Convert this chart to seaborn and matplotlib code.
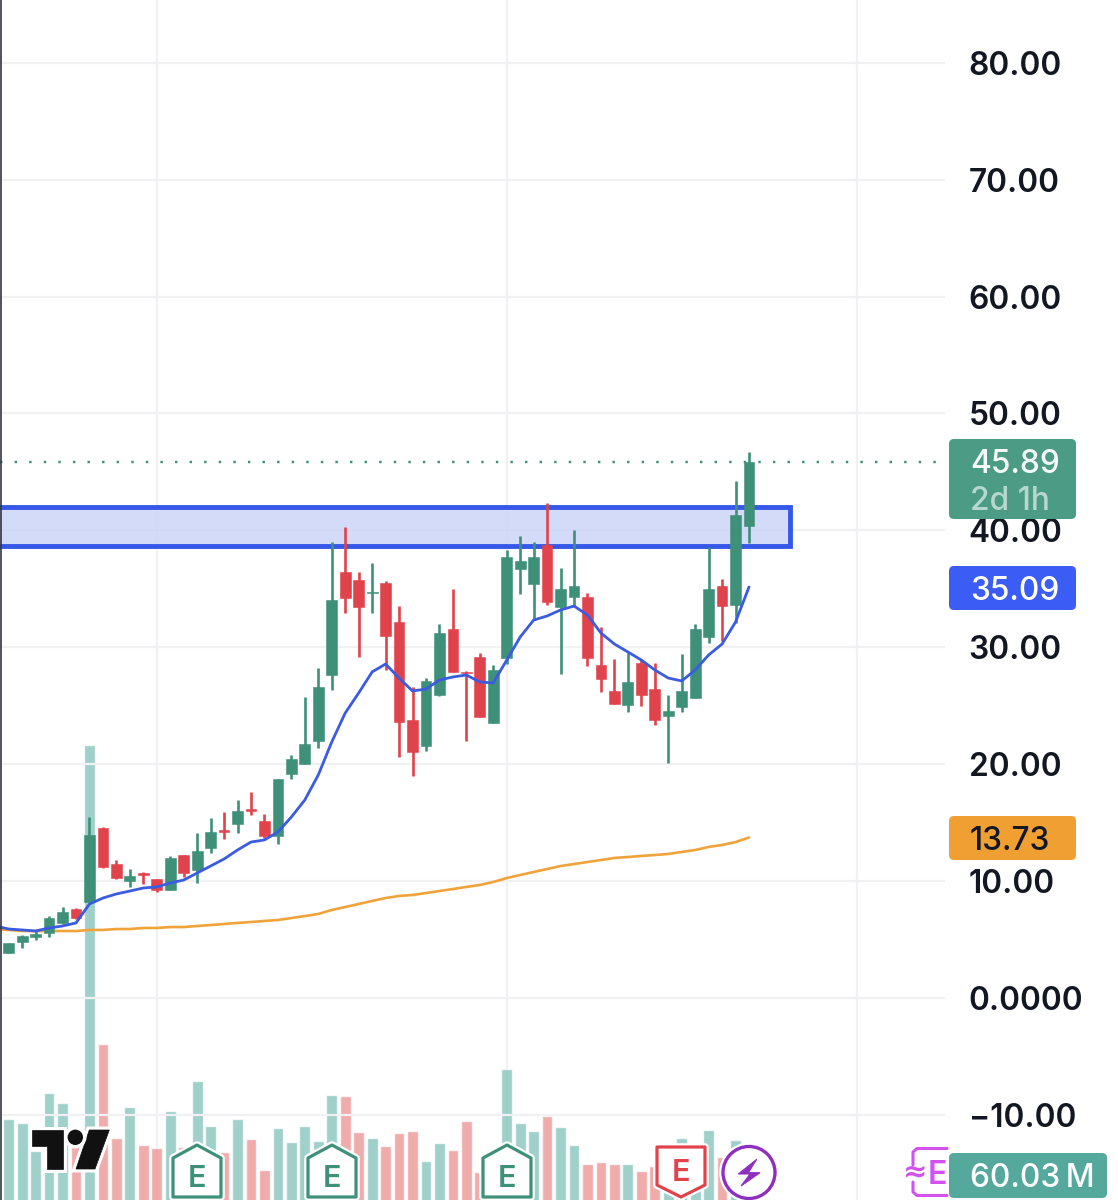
import numpy as np
import pandas as pd
import matplotlib
matplotlib.use("Agg")
import matplotlib.pyplot as plt
import matplotlib.patheffects as pe
from matplotlib.patches import FancyBboxPatch, Polygon, Circle, Rectangle
import seaborn as sns

# ---------- data ----------
opens = [3.85,4.79,5.22,5.56,6.42,7.61,8.21,14.54,11.46,10.01,10.69,10.18,9.24,12.23,10.95,12.83,14.37,14.88,16.17,15.14,
         13.86,19.16,20.02,21.98,27.63,36.44,35.76,34.64,35.50,32.16,23.78,21.56,25.92,31.56,27.89,29.17,23.52,29.08,36.70,35.41,
         38.75,33.45,34.30,34.30,28.49,26.26,25.06,28.66,26.43,24.12,24.89,25.66,30.88,35.24,33.62,40.38]
closes = [4.70,5.30,5.47,6.84,7.36,6.84,13.94,11.21,10.26,10.44,10.52,9.24,11.98,10.69,12.57,14.20,14.20,16.00,16.00,13.86,
          18.73,20.44,21.73,26.60,34.05,34.22,33.45,34.73,30.97,23.61,21.04,27.12,31.22,27.89,27.80,24.04,28.06,37.72,37.38,37.72,
          33.87,34.99,35.24,29.08,27.29,25.15,27.03,25.92,23.78,24.55,26.26,31.56,34.99,33.53,41.32,45.89]
highs = [4.70,5.39,5.82,7.01,7.78,7.70,15.48,14.63,11.80,11.03,10.78,10.18,12.15,12.23,14.11,15.40,15.91,16.94,17.62,15.74,
         18.73,20.79,25.75,28.23,39.01,40.29,36.44,37.21,35.67,33.53,26.60,27.37,31.99,34.99,27.97,29.51,28.49,38.32,39.52,39.01,
         42.34,36.78,40.03,34.64,31.74,29.00,29.51,29.00,28.66,25.92,29.43,31.99,38.58,35.84,44.22,46.71]
lows = [3.85,4.28,4.96,5.22,6.33,6.76,8.21,11.12,10.18,9.50,9.75,9.07,9.24,10.35,9.84,12.40,13.60,14.11,15.65,13.69,
        13.17,18.73,20.02,21.38,26.35,32.93,29.17,32.93,28.06,20.62,18.99,21.13,25.83,27.89,21.98,24.04,23.52,28.57,34.56,32.33,
        33.62,27.71,33.45,28.40,26.18,25.15,24.46,24.98,23.35,20.10,24.46,25.66,30.37,30.54,32.08,38.92]
volumes = [96,92,64,122,112,75,470,171,77,108,70,67,104,68,134,89,63,96,76,45,
           87,73,89,74,120,119,83,77,69,82,84,54,72,65,94,43,55,146,92,84,
           99,88,70,51,53,51,51,44,49,40,77,45,85,58,75,60.03]
ema_fast = [6.16,5.90,5.82,5.73,5.99,6.16,6.42,8.04,8.55,8.90,9.15,9.41,9.50,9.84,10.09,10.69,11.29,11.89,12.66,13.34,13.52,
            14.20,15.48,16.94,19.08,21.90,24.38,26.09,27.89,28.57,27.37,26.26,26.43,27.20,27.46,27.63,27.03,26.95,28.91,30.88,32.33,
            32.68,33.19,33.53,32.76,31.22,30.28,29.60,28.91,28.06,27.37,27.12,28.06,29.34,30.28,32.16,35.16]
ema_slow = [5.90,5.82,5.73,5.73,5.73,5.73,5.73,5.82,5.82,5.90,5.90,5.99,5.99,6.07,6.07,6.16,6.24,6.33,6.42,6.50,6.59,
            6.67,6.84,7.01,7.19,7.53,7.78,8.04,8.30,8.55,8.73,8.81,8.98,9.15,9.32,9.50,9.67,9.92,10.26,10.52,10.78,
            11.03,11.29,11.46,11.63,11.80,11.98,12.06,12.15,12.23,12.32,12.49,12.66,12.92,13.09,13.34,13.73]
price_ticks = [-10, 0, 10, 20, 30, 40, 50, 60, 70, 80]
price_tick_labels = ["\u221210.00", "0.0000", "10.00", "20.00", "30.00", "40.00", "50.00", "60.00", "70.00", "80.00"]
zone_low, zone_high = 38.66, 42.0
last_price = 45.89
time_grid = [11, 37, 63]

# ---------- style ----------
GREEN, RED = "#3F9079", "#E0434B"
VOL_GREEN, VOL_RED = "#7FC1B9", "#EB8F8F"
BLUE, ORANGE = "#3B5BE0", "#F0A33A"
GRID = "#F1F1F4"
FONT = ["Inter", "Open Sans", "DejaVu Sans"]
FS = 22.8
W, H = 1118, 1200

sns.set_theme(style="white")
plt.rcParams["font.family"] = FONT

df = pd.DataFrame({"idx": np.arange(len(opens)), "open": opens, "close": closes,
                   "high": highs, "low": lows, "volume": volumes})
df["direction"] = np.where(df["close"] >= df["open"], "up", "down")
colors = df["direction"].map({"up": GREEN, "down": RED})

fig = plt.figure(figsize=(W / 100, H / 100), dpi=100, facecolor="white")
rect = [0, 0, 945 / W, 1]
xlim = (-0.646, 69.56)
ylim = (-17.28, 85.37)

# volume pane, behind the prices
ax_vol = fig.add_axes(rect, zorder=1)
for v in time_grid:
    ax_vol.axvline(v, color=GRID, lw=1.6, zorder=0)
sns.barplot(data=df, x="idx", y="volume", hue="direction", palette={"up": VOL_GREEN, "down": VOL_RED},
            native_scale=True, dodge=False, width=0.8, saturation=1, alpha=0.75, legend=False, ax=ax_vol, zorder=2)
ax_vol.set_xlim(xlim)
ax_vol.set_ylim(15, 1215)
ax_vol.set_xlabel(""); ax_vol.set_ylabel("")
ax_vol.set_xticks([]); ax_vol.set_yticks([])
sns.despine(ax=ax_vol, left=True, right=True, top=True, bottom=True)

# price pane
ax = fig.add_axes(rect, zorder=2)
ax.patch.set_alpha(0)
ax.set_axisbelow(True)
for t in price_ticks:
    ax.axhline(t, color=GRID, lw=1.6, zorder=0)
ax.add_patch(Rectangle((xlim[0] - 2, zone_low), 58.05 - xlim[0] + 2, zone_high - zone_low,
                       facecolor="#C9D3F7", alpha=0.8, edgecolor="none", zorder=1))
ax.add_patch(Rectangle((xlim[0] - 2, zone_low), 58.05 - xlim[0] + 2, zone_high - zone_low,
                       facecolor="none", edgecolor="#3558E8", lw=3.5, zorder=1.5))
ax.plot(xlim, [last_price, last_price], color=GREEN, lw=1.75, ls=(0, (1, 5)), zorder=1.6)

line_x = np.arange(-1, len(opens))
sns.lineplot(x=line_x, y=ema_slow, color=ORANGE, lw=1.9, ax=ax, errorbar=None, zorder=2)
ax.vlines(df["idx"], df["low"], df["high"], colors=colors, lw=1.9, zorder=3)
ax.bar(df["idx"], np.abs(df["close"] - df["open"]), bottom=np.minimum(df["open"], df["close"]),
       width=0.8, color=colors, edgecolor=colors, linewidth=0.4, zorder=4)
sns.lineplot(x=line_x, y=ema_fast, color=BLUE, lw=2.0, ax=ax, errorbar=None, zorder=5)

ax.set_xlim(xlim); ax.set_ylim(ylim)
ax.set_xticks([]); ax.set_xlabel(""); ax.set_ylabel("")
ax.yaxis.tick_right()
ax.set_yticks(price_ticks)
ax.set_yticklabels(price_tick_labels, fontsize=FS, fontweight="semibold", color="#131722")
ax.tick_params(axis="y", length=0, pad=17)
sns.despine(ax=ax, left=True, right=True, top=True, bottom=True)

# overlay in pixel coordinates: badges, logo and event markers
ov = fig.add_axes([0, 0, 1, 1], zorder=3)
ov.set_xlim(0, W); ov.set_ylim(H, 0); ov.axis("off")
ov.plot([0.7, 0.7], [0, H], color="#33363F", lw=1.2, solid_capstyle="butt")

def badge(y0, y1, color, x1=1076):
    ov.add_patch(FancyBboxPatch((952, y0 + 3), x1 - 955, y1 - y0 - 6, boxstyle="round,pad=3,rounding_size=5",
                                facecolor=color, edgecolor="none", zorder=3))

def label(y, s, color="white", size=FS, alpha=1.0):
    ov.text(970, y, s, color=color, fontsize=size, fontweight="medium", va="center_baseline", ha="left",
            alpha=alpha, zorder=4)

badge(439, 519, "#4C9C85")
label(461, "45.89", alpha=0.95)
label(498, "2d 1h", alpha=0.6)
badge(566, 610, "#3B5DF5")
label(588, "35.09")
badge(816, 860, "#F0A033")
label(838, "13.73", color="#131722")
badge(1153, 1198, "#55A89C", x1=1107)
label(1175, "60.03\u2009M")

halo = [pe.withStroke(linewidth=5, foreground="white")]
# logo
for pts in ([(31.7, 1130), (63.3, 1130), (63.3, 1169), (47.3, 1169), (47.3, 1146), (31.7, 1146)],
            [(89.3, 1130), (109.3, 1130), (95, 1169), (76, 1169)]):
    ov.add_patch(Polygon(pts, closed=True, facecolor="#111111", edgecolor="#111111", lw=0.5, path_effects=halo, zorder=5))
ov.add_patch(Circle((75.3, 1137.3), 7.7, facecolor="#111111", edgecolor="none", path_effects=halo, zorder=5))

def marker(pts, color, tx, ty):
    ov.add_patch(Polygon(pts, closed=True, facecolor="white", edgecolor=color, lw=2.3, joinstyle="round",
                         path_effects=[pe.withStroke(linewidth=5.5, foreground="white")], zorder=6))
    ov.text(tx, ty, "E", color=color, fontsize=22, fontweight="semibold", ha="center", va="center_baseline", zorder=7)

for cx in (197, 332, 507):
    marker([(cx - 24, 1158), (cx, 1145), (cx + 24, 1158), (cx + 24, 1197), (cx - 24, 1197)], GREEN, cx, 1176)
marker([(657, 1147), (705, 1147), (705, 1185), (681, 1197), (657, 1185)], RED, 681, 1170)

ov.add_patch(Circle((749, 1172.5), 26, facecolor="white", edgecolor="#8E2FC0", lw=2.4,
                    path_effects=[pe.withStroke(linewidth=5.5, foreground="white")], zorder=6))
ov.add_patch(Polygon([(756.7, 1159.3), (738.3, 1174), (750, 1174), (741, 1186), (760, 1172.7), (748.3, 1172.7)],
                     closed=True, facecolor="#8E2FC0", edgecolor="#8E2FC0", lw=0.8, zorder=7))

PINK = "#D152F0"
ov.plot([947, 917, 913, 913], [1148.5, 1148.5, 1152, 1165], color=PINK, lw=2.2, zorder=2)
ov.plot([913, 913, 917, 947], [1182, 1192, 1195.5, 1195.5], color=PINK, lw=2.2, zorder=2)
ov.text(915, 1172, "\u2248", color=PINK, fontsize=21, fontweight="bold", ha="center", va="center",
        family=["DejaVu Sans"], zorder=2)
ov.text(937.5, 1172, "E", color=PINK, fontsize=23, fontweight="semibold", ha="center", va="center_baseline", zorder=2)

fig.savefig("out.png", dpi=100, facecolor="white")
